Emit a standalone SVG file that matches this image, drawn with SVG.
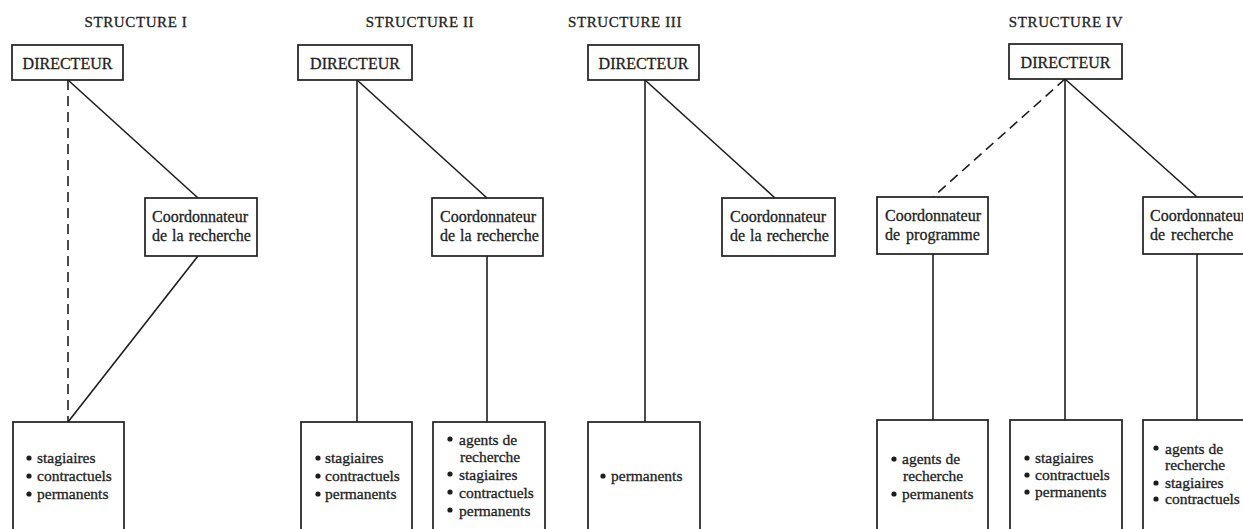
<svg xmlns="http://www.w3.org/2000/svg" width="1243" height="529" viewBox="0 0 1243 529">
<style>
text{font-family:"Liberation Serif","Times New Roman",serif;fill:#1e1e1e;stroke:#1e1e1e;stroke-width:0.3}
.title{font-size:15px;letter-spacing:0.6px;text-anchor:middle}
.dir{font-size:16px;text-anchor:middle}
.co{font-size:16px}
.li{font-size:15.5px}
.box{fill:#fff;stroke:#1e1e1e;stroke-width:1.7}
.ln{fill:none;stroke:#1e1e1e;stroke-width:1.6}
.dash{stroke-dasharray:10 6}
</style>
<defs><circle id="dot" r="2.6" fill="#1e1e1e"/></defs>
<rect width="1243" height="529" fill="#fff"/>
<g id="titles">
<text class="title" x="136" y="27">STRUCTURE I</text>
<text class="title" x="420" y="27">STRUCTURE II</text>
<text class="title" x="625" y="27">STRUCTURE III</text>
<text class="title" x="1066" y="27">STRUCTURE IV</text>
</g>
<g id="connectors">
<line class="ln dash" x1="68" y1="80" x2="68" y2="422"/>
<line class="ln" x1="68" y1="80" x2="198" y2="198"/>
<line class="ln" x1="198" y1="256" x2="68" y2="422"/>
<line class="ln" x1="357" y1="80" x2="357" y2="422"/>
<line class="ln" x1="357" y1="80" x2="487" y2="198"/>
<line class="ln" x1="487" y1="256" x2="487" y2="422"/>
<line class="ln" x1="645" y1="80" x2="645" y2="422"/>
<line class="ln" x1="645" y1="80" x2="775" y2="198"/>
<line class="ln dash" x1="1065" y1="79" x2="933" y2="197"/>
<line class="ln" x1="1065" y1="79" x2="1065" y2="420"/>
<line class="ln" x1="1065" y1="79" x2="1197" y2="197"/>
<line class="ln" x1="933" y1="254" x2="933" y2="420"/>
<line class="ln" x1="1197" y1="254" x2="1197" y2="420"/>
</g>
<g id="s1-directeur"><rect class="box" x="12" y="45" width="111" height="35"/><text class="dir" x="67.5" y="69">DIRECTEUR</text></g>
<g id="s1-coord"><rect class="box" x="145" y="198" width="112" height="58"/><text class="co" x="152" y="222">Coordonnateur</text><text class="co" x="152" y="241" word-spacing="1">de la recherche</text></g>
<g id="s1-bottom"><rect class="box" x="13" y="422" width="111" height="120"/>
<use href="#dot" x="29" y="458"/><text class="li" x="37" y="463">stagiaires</text>
<use href="#dot" x="29" y="476"/><text class="li" x="37" y="481">contractuels</text>
<use href="#dot" x="29" y="494"/><text class="li" x="37" y="499">permanents</text></g>
<g id="s2-directeur"><rect class="box" x="298" y="45" width="114" height="35"/><text class="dir" x="355" y="69">DIRECTEUR</text></g>
<g id="s2-coord"><rect class="box" x="432" y="198" width="111" height="58"/><text class="co" x="440" y="222">Coordonnateur</text><text class="co" x="440" y="241" word-spacing="1">de la recherche</text></g>
<g id="s2-bottom1"><rect class="box" x="301" y="422" width="111" height="120"/>
<use href="#dot" x="318" y="458"/><text class="li" x="325" y="463">stagiaires</text>
<use href="#dot" x="318" y="476"/><text class="li" x="325" y="481">contractuels</text>
<use href="#dot" x="318" y="494"/><text class="li" x="325" y="499">permanents</text></g>
<g id="s2-bottom2"><rect class="box" x="433" y="422" width="112" height="120"/>
<use href="#dot" x="450" y="439"/><text class="li" x="459" y="445">agents de</text>
<text class="li" x="460" y="462">recherche</text>
<use href="#dot" x="450" y="474"/><text class="li" x="459" y="480">stagiaires</text>
<use href="#dot" x="450" y="492"/><text class="li" x="459" y="498">contractuels</text>
<use href="#dot" x="450" y="510"/><text class="li" x="459" y="516">permanents</text></g>
<g id="s3-directeur"><rect class="box" x="588" y="45" width="111" height="35"/><text class="dir" x="643.5" y="69">DIRECTEUR</text></g>
<g id="s3-coord"><rect class="box" x="722" y="198" width="113" height="58"/><text class="co" x="730" y="222">Coordonnateur</text><text class="co" x="730" y="241" word-spacing="1">de la recherche</text></g>
<g id="s3-bottom"><rect class="box" x="588" y="422" width="112" height="120"/>
<use href="#dot" x="603" y="476"/><text class="li" x="611" y="481">permanents</text></g>
<g id="s4-directeur"><rect class="box" x="1009" y="44" width="113" height="35"/><text class="dir" x="1065.5" y="68">DIRECTEUR</text></g>
<g id="s4-coord-prog"><rect class="box" x="877" y="197" width="111" height="57"/><text class="co" x="885" y="221">Coordonnateur</text><text class="co" x="885" y="240" word-spacing="2">de programme</text></g>
<g id="s4-coord-rech"><rect class="box" x="1143" y="197" width="120" height="57"/><text class="co" x="1150" y="221">Coordonnateur</text><text class="co" x="1150" y="240" word-spacing="2">de recherche</text></g>
<g id="s4-bottom1"><rect class="box" x="877" y="420" width="111" height="120"/>
<use href="#dot" x="894" y="459"/><text class="li" x="902" y="464">agents de</text>
<text class="li" x="903" y="481">recherche</text>
<use href="#dot" x="894" y="494"/><text class="li" x="902" y="499">permanents</text></g>
<g id="s4-bottom2"><rect class="box" x="1010" y="420" width="112" height="120"/>
<use href="#dot" x="1027" y="458"/><text class="li" x="1035" y="463">stagiaires</text>
<use href="#dot" x="1027" y="475"/><text class="li" x="1035" y="480">contractuels</text>
<use href="#dot" x="1027" y="492"/><text class="li" x="1035" y="497">permanents</text></g>
<g id="s4-bottom3"><rect class="box" x="1143" y="420" width="120" height="120"/>
<use href="#dot" x="1156" y="448"/><text class="li" x="1165" y="454">agents de</text>
<text class="li" x="1165" y="470">recherche</text>
<use href="#dot" x="1156" y="483"/><text class="li" x="1165" y="488">stagiaires</text>
<use href="#dot" x="1156" y="499"/><text class="li" x="1165" y="504">contractuels</text></g>
</svg>
